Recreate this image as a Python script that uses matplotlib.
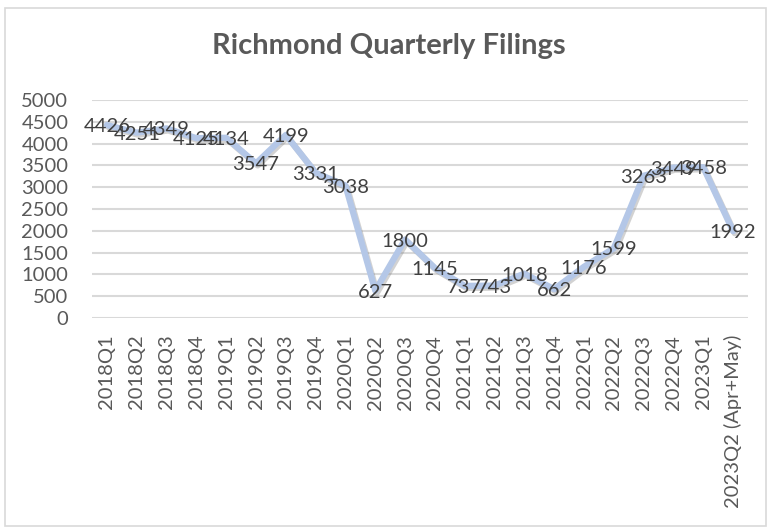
import matplotlib
matplotlib.use("Agg")
import matplotlib.pyplot as plt
import matplotlib.patheffects as pe
from matplotlib.patches import Rectangle

categories = ["2018Q1", "2018Q2", "2018Q3", "2018Q4", "2019Q1", "2019Q2", "2019Q3", "2019Q4",
              "2020Q1", "2020Q2", "2020Q3", "2020Q4", "2021Q1", "2021Q2", "2021Q3", "2021Q4",
              "2022Q1", "2022Q2", "2022Q3", "2022Q4", "2023Q1", "2023Q2 (Apr+May)"]
filings = [4426, 4251, 4349, 4125, 4134, 3547, 4199, 3331,
           3038, 627, 1800, 1145, 737, 743, 1018, 662,
           1176, 1599, 3263, 3449, 3458, 1992]
y_ticks = [0, 500, 1000, 1500, 2000, 2500, 3000, 3500, 4000, 4500, 5000]
title = "Richmond Quarterly Filings"

plt.rcParams['font.family'] = ['Lato', 'DejaVu Sans']

W, H = 769, 529
fig = plt.figure(figsize=(W / 100, H / 100), dpi=100)
fig.patches.append(Rectangle((5 / W, 3 / H), 761 / W, 518 / H, transform=fig.transFigure,
                             fill=False, edgecolor='#d9d9d9', linewidth=1.2))

ax = fig.add_axes([92 / W, 1 - 318 / H, (748 - 92) / W, (318 - 100) / H])
x = list(range(len(categories)))
ax.plot(x, filings, color='#b4c7e7', linewidth=4.5, solid_joinstyle='round', solid_capstyle='round',
        path_effects=[pe.SimpleLineShadow(offset=(1.2, -1.5), shadow_color='#808080', alpha=0.35),
                      pe.Normal()], zorder=3)
for i, v in zip(x, filings):
    ax.text(i, v, str(v), ha='center', va='center_baseline', fontsize=14.5, color='#404040', zorder=4)

ax.set_xlim(-0.5, len(categories) - 0.5)
ax.set_ylim(0, 5000)
ax.set_yticks(y_ticks)
ax.set_yticklabels([str(t) for t in y_ticks])
ax.set_xticks(x)
ax.set_xticklabels(categories, rotation=90)
ax.tick_params(axis='both', length=0, labelsize=14.5, labelcolor='#595959')
ax.tick_params(axis='y', pad=17)
ax.tick_params(axis='x', pad=12)
ax.grid(axis='y', color='#d9d9d9', linewidth=1.5)
ax.set_axisbelow(True)
for s in ax.spines.values():
    s.set_visible(False)

fig.text(389 / W, 1 - 46 / H, title, ha='center', va='center', fontsize=21,
         fontweight='bold', color='#595959')

fig.savefig('out.png', dpi=100)
